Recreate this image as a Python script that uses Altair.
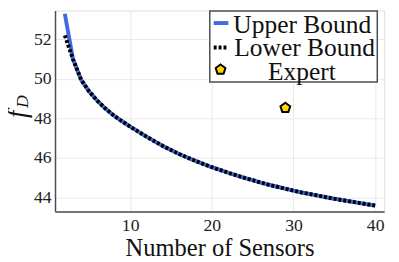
import altair as alt
import pandas as pd

# ---- data ----
sensors = list(range(2, 41))
upper_bound = [53.3, 51.0, 49.95, 49.35, 48.88, 48.48, 48.14, 47.85, 47.58, 47.32,
               47.07, 46.83, 46.6, 46.39, 46.19, 46.01, 45.84, 45.68, 45.52, 45.38,
               45.24, 45.11, 44.98, 44.86, 44.74, 44.63, 44.53, 44.43, 44.33, 44.24,
               44.16, 44.08, 44.0, 43.92, 43.85, 43.78, 43.71, 43.64, 43.58]
lower_bound = [52.2] + upper_bound[1:]
expert_n = [29]
expert_f = [48.53]
x_ticks = [10, 20, 30, 40]
y_ticks = [44, 46, 48, 50, 52]
legend_labels = ["Upper Bound", "Lower Bound", "Expert"]

FONT = "Liberation Serif"
BLUE = "#4169e1"
GOLD = "#ffd700"
PENT = "M0,-1L0.951,-0.309L0.588,0.809L-0.588,0.809L-0.951,-0.309Z"

df_up = pd.DataFrame({"n": sensors, "f": upper_bound})
df_lo = pd.DataFrame({"n": sensors, "f": lower_bound})
df_ex = pd.DataFrame({"n": expert_n, "f": expert_f})
one = pd.DataFrame({"k": [0]})

xs = alt.Scale(domain=[0.8, 41.1], nice=False, zero=False)
ys = alt.Scale(domain=[43.28, 53.46], nice=False, zero=False)

xax = alt.Axis(values=x_ticks, title="Number of Sensors", grid=True, ticks=False,
               labelFont=FONT, labelFontSize=18, labelColor="#222222", labelPadding=6,
               titleFont=FONT, titleFontSize=25, titleFontWeight="normal",
               titleColor="#111111", titlePadding=1,
               domainColor="#4d4d4d", domainWidth=1.5,
               gridColor="#e8e8e8", gridWidth=1)
yax = alt.Axis(values=y_ticks, title=None, grid=True, ticks=False,
               labelFont=FONT, labelFontSize=18, labelColor="#222222", labelPadding=4,
               domainColor="#4d4d4d", domainWidth=1.5,
               gridColor="#e8e8e8", gridWidth=1)

up = alt.Chart(df_up).mark_line(color=BLUE, strokeWidth=4).encode(
    x=alt.X("n:Q", scale=xs, axis=xax),
    y=alt.Y("f:Q", scale=ys, axis=yax),
)
lo = alt.Chart(df_lo).mark_line(color="black", strokeWidth=4, strokeDash=[3, 2]).encode(
    x=alt.X("n:Q", scale=xs), y=alt.Y("f:Q", scale=ys)
)
ex = alt.Chart(df_ex).mark_point(shape=PENT, filled=True, fill=GOLD, stroke="black",
                                 strokeWidth=2, size=110, opacity=1).encode(
    x=alt.X("n:Q", scale=xs), y=alt.Y("f:Q", scale=ys)
)

# legend box
box = alt.Chart(one).mark_rect(fill="white", stroke="#4d4d4d", strokeWidth=1.5).encode(
    x=alt.value(158), x2=alt.value(329), y=alt.value(0.5), y2=alt.value(73)
)
leg_up = alt.Chart(one).mark_rule(color=BLUE, strokeWidth=4).encode(
    x=alt.value(162), x2=alt.value(177), y=alt.value(12.7)
)
leg_lo = alt.Chart(one).mark_rule(color="black", strokeWidth=4, strokeDash=[3, 2]).encode(
    x=alt.value(162), x2=alt.value(177), y=alt.value(37.7)
)
leg_ex = alt.Chart(one).mark_point(shape=PENT, filled=True, fill=GOLD, stroke="black",
                                   strokeWidth=2, size=110, opacity=1).encode(
    x=alt.value(169), y=alt.value(60.3)
)
t1 = alt.Chart(one).mark_text(align="left", baseline="alphabetic", font=FONT, fontSize=26,
                              color="#111111").encode(
    x=alt.value(182), y=alt.value(22.7), text=alt.value(legend_labels[0]))
t2 = alt.Chart(one).mark_text(align="left", baseline="alphabetic", font=FONT, fontSize=26,
                              color="#111111").encode(
    x=alt.value(183), y=alt.value(46), text=alt.value(legend_labels[1]))
t3 = alt.Chart(one).mark_text(align="center", baseline="alphabetic", font=FONT, fontSize=26,
                              color="#111111").encode(
    x=alt.value(252), y=alt.value(71.3), text=alt.value(legend_labels[2]))

# y title f_D
yf = alt.Chart(one).mark_text(angle=270, align="center", baseline="middle", font=FONT,
                              fontStyle="italic", fontSize=27, color="#111111").encode(
    x=alt.value(-38), y=alt.value(106), text=alt.value("f"))
yd = alt.Chart(one).mark_text(angle=270, align="center", baseline="middle", font=FONT,
                              fontStyle="italic", fontSize=18, color="#111111").encode(
    x=alt.value(-33), y=alt.value(93), text=alt.value("D"))

chart = alt.layer(up, lo, ex, box, leg_up, leg_lo, leg_ex, t1, t2, t3, yf, yd).properties(
    width=336, height=205,
    autosize=alt.AutoSizeParams(type="none"),
    padding={"left": 48, "top": 0, "right": 7, "bottom": 49},
).configure_view(stroke=None).configure(background="white", font=FONT)

chart.save("out.html", embed_options={"renderer": "svg", "actions": False})
